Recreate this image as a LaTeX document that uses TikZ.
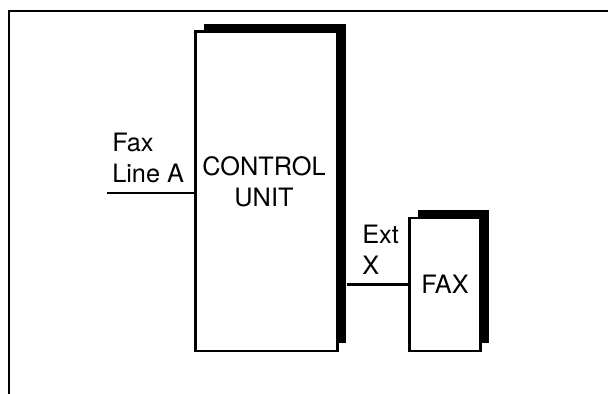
\documentclass[tikz,border=0pt]{standalone}
\usepackage{fontspec}
\setmainfont{TeX Gyre Heros}
\usetikzlibrary{shadows}

\tikzset{
    unitbox/.style={draw, line width=1.8pt, fill=white, inner sep=0pt,
        general shadow={fill=black, shadow xshift=0.21cm, shadow yshift=0.2cm}},
    wire/.style={line width=1.8pt},
    tag/.style={inner sep=0pt, align=left, font=\fontsize{18}{22}\selectfont},
}

\begin{document}
\begin{tikzpicture}[x=0.025cm, y=-0.025cm]

    \useasboundingbox (0,0) rectangle (608,394);
    % frame
    \draw[line width=1.6pt] (9,394) -- (9,11) -- (608,11);

    % units
    \node[unitbox, minimum width=3.54cm, minimum height=7.98cm] (cu) at (266.5,191.3) {};
    \node[tag, align=center, anchor=south] (culabel) at (264,207) {CONTROL\\UNIT};
    \node[unitbox, tag, inner sep=0pt, minimum width=1.77cm, minimum height=3.33cm] (fax) at (445,284.5) {FAX};

    % lines
    \coordinate (faxline) at (107,193);
    \draw[wire] (faxline) -- (faxline -| cu.west);
    \node[tag, anchor=south west] (faxlbl) at (112,183) {Fax\\Line A};

    \draw[wire] ([xshift=0.21cm]cu.east |- fax.west) -- (fax.west);
    \node[tag, anchor=south west] (extlbl) at (362,275) {Ext\\X};

\end{tikzpicture}
\end{document}
